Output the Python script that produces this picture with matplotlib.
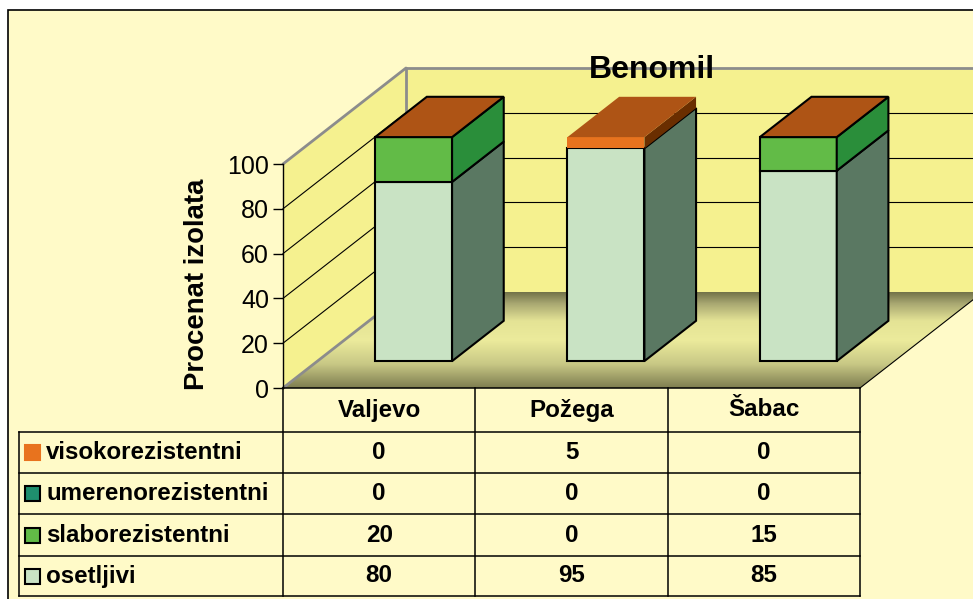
import numpy as np
import matplotlib
matplotlib.use('Agg')
import matplotlib.pyplot as plt
from matplotlib.patches import Polygon, Rectangle
from matplotlib.colors import LinearSegmentedColormap
from matplotlib.lines import Line2D

plt.rcParams['font.family'] = ['Liberation Sans', 'DejaVu Sans']

# ---------------- data ----------------
categories = ['Valjevo', 'Požega', 'Šabac']
series_names = ['visokorezistentni', 'umerenorezistentni', 'slaborezistentni', 'osetljivi']
visokorezistentni = [0, 5, 0]
umerenorezistentni = [0, 0, 0]
slaborezistentni = [20, 0, 15]
osetljivi = [80, 95, 85]
yticks = [0, 20, 40, 60, 80, 100]
title = 'Benomil'
ylabel = 'Procenat izolata'

series_values = [visokorezistentni, umerenorezistentni, slaborezistentni, osetljivi]
front_colors = ['#E8731E', '#1F8F6E', '#62BB47', '#C9E3C4']
side_colors = ['#6A2E00', '#16644D', '#2A8E3A', '#5A7862']
edge_colors = ['none', 'black', 'black', 'black']
top_color = '#AE5415'

# ---------------- layout ----------------
W, H = 973, 599
fig = plt.figure(figsize=(W / 100, H / 100), dpi=100)
fig.patch.set_facecolor('white')

bg = fig.add_axes([0, 0, 1, 1], zorder=0)
bg.set_xlim(0, W)
bg.set_ylim(0, H)
bg.axis('off')

ax = fig.add_axes([283 / W, (H - 388) / H, 577 / W, 224 / H], zorder=1)
ax.set_xlim(-0.5, len(categories) - 0.5)
ax.set_ylim(0, 100)
ax.patch.set_visible(False)
for s in ['top', 'right', 'bottom']:
    ax.spines[s].set_visible(False)
ax.spines['left'].set_color('black')
ax.spines['left'].set_linewidth(1.0)
ax.set_xticks([])
ax.set_yticks(yticks)
ax.set_yticklabels([str(t) for t in yticks])
ax.tick_params(axis='y', direction='out', length=7, width=1, pad=3, labelsize=18)
ax.set_ylabel(ylabel, fontsize=19.8, fontweight='bold')
ax.yaxis.label.set_va('center')
ax.yaxis.set_label_coords(-0.149, 0.462)

DEPTH = np.array([123.0, 96.0])


def proj(x, v, d):
    p = ax.transData.transform((x, v))
    return p + d * DEPTH


def poly(pts, fc, ec='black', lw=1.5, z=2):
    bg.add_patch(Polygon(pts, closed=True, facecolor=fc, edgecolor=ec,
                         linewidth=lw, zorder=z, joinstyle='miter'))


# chart area background + border
bg.add_patch(Rectangle((8, -5), W, H - 10 + 5, facecolor='#FFFAC8',
                       edgecolor='black', linewidth=1.2, zorder=0.5))

x0, x1 = -0.5, len(categories) - 0.5
wall_c = '#F5F18F'
# back wall
poly([proj(x0, 0, 1), proj(x0, 100, 1), proj(x1, 100, 1), proj(x1, 0, 1)], wall_c, 'none', 0, 1)
# side wall
poly([proj(x0, 0, 0), proj(x0, 100, 0), proj(x0, 100, 1), proj(x0, 0, 1)], wall_c, 'none', 0, 1)

# floor with gradient
floor_pts = [proj(x0, 0, 0), proj(x1, 0, 0), proj(x1, 0, 1), proj(x0, 0, 1)]
floor_patch = Polygon(floor_pts, closed=True, facecolor='none', edgecolor='none')
bg.add_patch(floor_patch)
cmap = LinearSegmentedColormap.from_list('floor', [
    (0.0, '#7E7D50'), (0.25, '#C8C885'), (0.5, '#ECEB9C'), (0.7, '#E4E395'),
    (0.88, '#A9A872'), (1.0, '#727249')])
grad = np.linspace(0, 1, 256).reshape(-1, 1)
yf = proj(x0, 0, 0)[1]
yb = proj(x0, 0, 1)[1]
im = bg.imshow(grad, cmap=cmap, origin='lower', aspect='auto',
               extent=(0, W, yf, yb), zorder=1.2, interpolation='bilinear')
im.set_clip_path(floor_patch)
bg.set_xlim(0, W)
bg.set_ylim(0, H)

# grid lines
for v in yticks[1:-1]:
    a, b = proj(x0, v, 1), proj(x1, v, 1)
    bg.add_line(Line2D([a[0], b[0]], [a[1], b[1]], color='black', lw=0.8, zorder=1.5))
    a, b = proj(x0, v, 0), proj(x0, v, 1)
    bg.add_line(Line2D([a[0], b[0]], [a[1], b[1]], color='black', lw=0.8, zorder=1.5))

gray = '#8C8C8C'
for (p, q) in [(proj(x0, 100, 1), proj(x1, 100, 1)),
               (proj(x0, 0, 1), proj(x0, 100, 1)),
               (proj(x0, 100, 0), proj(x0, 100, 1)),
               (proj(x0, 0, 0), proj(x0, 0, 1))]:
    bg.add_line(Line2D([p[0], q[0]], [p[1], q[1]], color=gray, lw=2, zorder=1.6,
                       solid_capstyle='round'))
p, q = proj(x1, 0, 0), proj(x1, 0, 1)
bg.add_line(Line2D([p[0], q[0]], [p[1], q[1]], color='black', lw=0.8, zorder=1.6))

# bars
bw = 0.4
d0, d1 = 0.28, 0.70
for i in range(len(categories)):
    xa, xb = i - bw / 2, i + bw / 2
    base = 0
    last_edge = 'black'
    for k in [3, 2, 1, 0]:
        v = series_values[k][i]
        if v <= 0:
            continue
        top = base + v
        poly([proj(xa, base, d0), proj(xb, base, d0), proj(xb, top, d0), proj(xa, top, d0)],
             front_colors[k], edge_colors[k], 1.5, 3)
        poly([proj(xb, base, d0), proj(xb, base, d1), proj(xb, top, d1), proj(xb, top, d0)],
             side_colors[k], edge_colors[k], 1.5, 3)
        last_edge = edge_colors[k]
        base = top
    poly([proj(xa, base, d0), proj(xb, base, d0), proj(xb, base, d1), proj(xa, base, d1)],
         top_color, last_edge, 1.5, 3.5)

# title
bg.text(652, H - 78, title, fontsize=23, fontweight='bold', ha='center', va='baseline', zorder=5)

# ---------------- data table ----------------
row_lines = [H - 388, H - 432, H - 473, H - 514, H - 556, H - 596]
col_x = [proj(c - 0.5, 0, 0)[0] for c in range(len(categories) + 1)]
left_x = 19
tab_lw = 1.1
# header row top (floor front edge)
bg.add_line(Line2D([col_x[0], col_x[-1]], [row_lines[0]] * 2, color='black', lw=tab_lw, zorder=4))
for y in row_lines[1:]:
    bg.add_line(Line2D([left_x, col_x[-1]], [y, y], color='black', lw=tab_lw, zorder=4))
for x in col_x:
    bg.add_line(Line2D([x, x], [row_lines[0], row_lines[-1]], color='black', lw=tab_lw, zorder=4))
bg.add_line(Line2D([left_x, left_x], [row_lines[1], row_lines[-1]], color='black', lw=tab_lw, zorder=4))

fs = 17.4
for c, name in enumerate(categories):
    xc = (col_x[c] + col_x[c + 1]) / 2
    bg.text(xc, (row_lines[0] + row_lines[1]) / 2, name, fontsize=fs, fontweight='bold',
            ha='center', va='center', zorder=5)
for r, name in enumerate(series_names):
    yc = (row_lines[r + 1] + row_lines[r + 2]) / 2
    bg.add_patch(Rectangle((25, yc - 7.5), 15, 15, facecolor=front_colors[r],
                           edgecolor='black' if edge_colors[r] != 'none' else front_colors[r],
                           linewidth=1.5, zorder=5))
    bg.text(46, yc, name, fontsize=fs, fontweight='bold', ha='left', va='center', zorder=5)
    for c in range(len(categories)):
        xc = (col_x[c] + col_x[c + 1]) / 2
        bg.text(xc, yc, str(series_values[r][c]), fontsize=fs, fontweight='bold',
                ha='center', va='center', zorder=5)

fig.savefig('out.png', dpi=100, facecolor=fig.get_facecolor())
